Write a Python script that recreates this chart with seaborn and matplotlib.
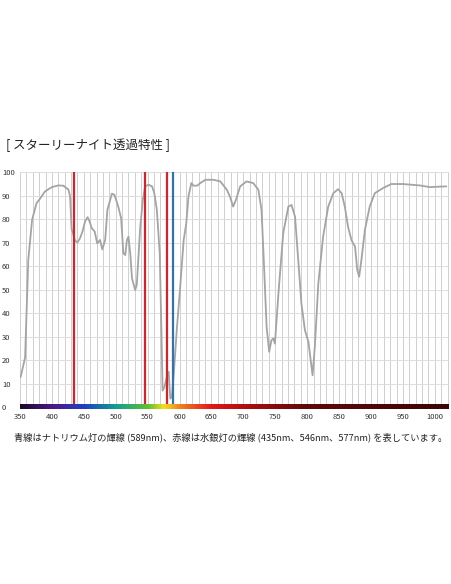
import matplotlib
matplotlib.use("Agg")
from matplotlib import pyplot as plt
from matplotlib.colors import LinearSegmentedColormap
import numpy as np
import pandas as pd
import seaborn as sns

# Starry Night filter transmission curve
wavelength = [351, 358, 363, 369, 376, 381, 389, 400, 410, 418, 426, 428.5, 431, 432,
              436, 440, 444, 448, 452, 456, 459, 462.5, 467, 471, 475.5, 479, 483.5,
              487, 494, 498, 504, 508.5, 512, 515, 517.5, 520, 523, 525.5, 530.5, 533,
              538.5, 542.5, 546, 551.5, 557, 560.5, 564.5, 569, 571.5, 573.5, 576.5,
              580, 583, 585.5, 588, 591, 596, 601, 606.5, 610.5, 614, 618.5, 622,
              627.5, 632.5, 640.5, 653.5, 664, 674, 679, 684, 688.5, 695, 705, 715.5,
              723.5, 728.5, 732, 736.5, 740.5, 744, 747, 749.5, 755, 762.5, 770.5,
              775.5, 781, 786, 791, 796.5, 802, 805.5, 808.5, 812, 817.5, 825, 833,
              841, 848.5, 854, 859, 864, 869.5, 875, 878.5, 881.5, 885, 890.5, 898,
              906, 919, 932, 950.5, 976.5, 992, 1018]
transmission = [12.8, 21, 62.6, 79.7, 86.8, 88.5, 91.7, 93.6, 94.3, 94.2, 92.5, 89.6, 75.4, 75,
                71, 70, 71.8, 74.7, 79, 80.8, 79, 76.1, 74.7, 69.7, 71.1, 67.1, 71.1,
                83.9, 90.8, 90.3, 85.3, 80.4, 65.4, 64.7, 71, 72.5, 64.7, 54.8, 49.8, 52,
                76.8, 88.2, 93.9, 94.6, 93.9, 91, 83.9, 65.4, 34, 7, 8.5,
                12.8, 15, 3.6, 4.3, 14.2, 34, 51, 71, 78, 89.6, 95.3, 94.2,
                94.2, 95.3, 96.7, 96.7, 96, 92.5, 89.6, 85.3, 88.2, 93.9, 96, 95.3,
                92.5, 83.9, 62.6, 34, 23.5, 28.4, 29.2, 27, 48.4, 74, 85.3,
                86, 81, 62.6, 44, 32.7, 27.7, 20, 13.5, 25.6, 52.6, 72.5, 85.3,
                91, 92.7, 91, 85.3, 76.8, 71, 68.3, 58.3, 55.5, 62.6, 75.4, 85.3,
                91, 93.2, 94.9, 94.9, 94.3, 93.6, 93.9]

mercury_lines = [435, 546, 580]
sodium_lines = [590]

spectrum_nm = [350, 400, 450, 500, 550, 575, 600, 650, 700, 800, 1020]
spectrum_colors = ["#1a0a2a", "#4b1a8a", "#2040c0", "#10a090", "#60c030", "#f0e020",
                   "#f08020", "#e01818", "#b01010", "#600808", "#3a0606"]

xticks = list(range(350, 1001, 50))
yticks = list(range(0, 101, 10))

title = "[ スターリーナイト透過特性 ]"
caption = "青線はナトリウム灯の輝線 (589nm)、赤線は水銀灯の輝線 (435nm、546nm、577nm) を表しています。"

df = pd.DataFrame({"nm": wavelength, "T": transmission})

sns.set_style("white")
plt.rcParams["font.family"] = ["Noto Sans CJK JP", "DejaVu Sans"]

fig = plt.figure(figsize=(4.52, 5.84), dpi=100)
ax = fig.add_axes([0.0442, 0.303, 0.9488, 0.4024])

xmin, xmax = 350, 1022
ax.set_xlim(xmin, xmax)
ax.set_ylim(0, 100)

# grid
ax.set_xticks(range(350, 1021, 10), minor=True)
ax.set_xticks(xticks)
ax.set_yticks(yticks)
ax.grid(True, which="both", axis="x", color="#cfcfcf", lw=0.7)
ax.grid(True, which="major", axis="y", color="#dddddd", lw=0.7)
for s in ax.spines.values():
    s.set_visible(False)

sns.lineplot(data=df, x="nm", y="T", ax=ax, color="#a4a4a4", lw=1.3, zorder=3)

for w in mercury_lines:
    ax.axvline(w, ymin=0.01, ymax=1, color="#d8222a", lw=1.6, zorder=4)
for w in sodium_lines:
    ax.axvline(w, ymin=0.01, ymax=1, color="#2f74b0", lw=1.6, zorder=4)

# spectrum band along the bottom
stops = [(n - xmin) / (xmax - xmin) for n in spectrum_nm]
stops[-1] = 1.0
cmap = LinearSegmentedColormap.from_list("spec", list(zip(stops, spectrum_colors)))
grad = np.linspace(0, 1, 600).reshape(1, -1)
ax.imshow(grad, cmap=cmap, aspect="auto", extent=[xmin, xmax, -0.7, 1.1],
          zorder=5, clip_on=False)

ax.tick_params(axis="both", which="both", length=0, labelsize=5.5, colors="#333333")
ax.tick_params(axis="x", pad=4)
ax.set_xlabel("")
ax.set_ylabel("")
for lab in ax.get_yticklabels():
    lab.set_horizontalalignment("left")
ax.yaxis.set_tick_params(pad=13)

fig.text(0.013, 0.752, title, fontsize=9.0, color="#222222", va="center")
fig.text(0.031, 0.251, caption, fontsize=6.65, color="#222222", va="center")

fig.savefig("out.png", dpi=100)
